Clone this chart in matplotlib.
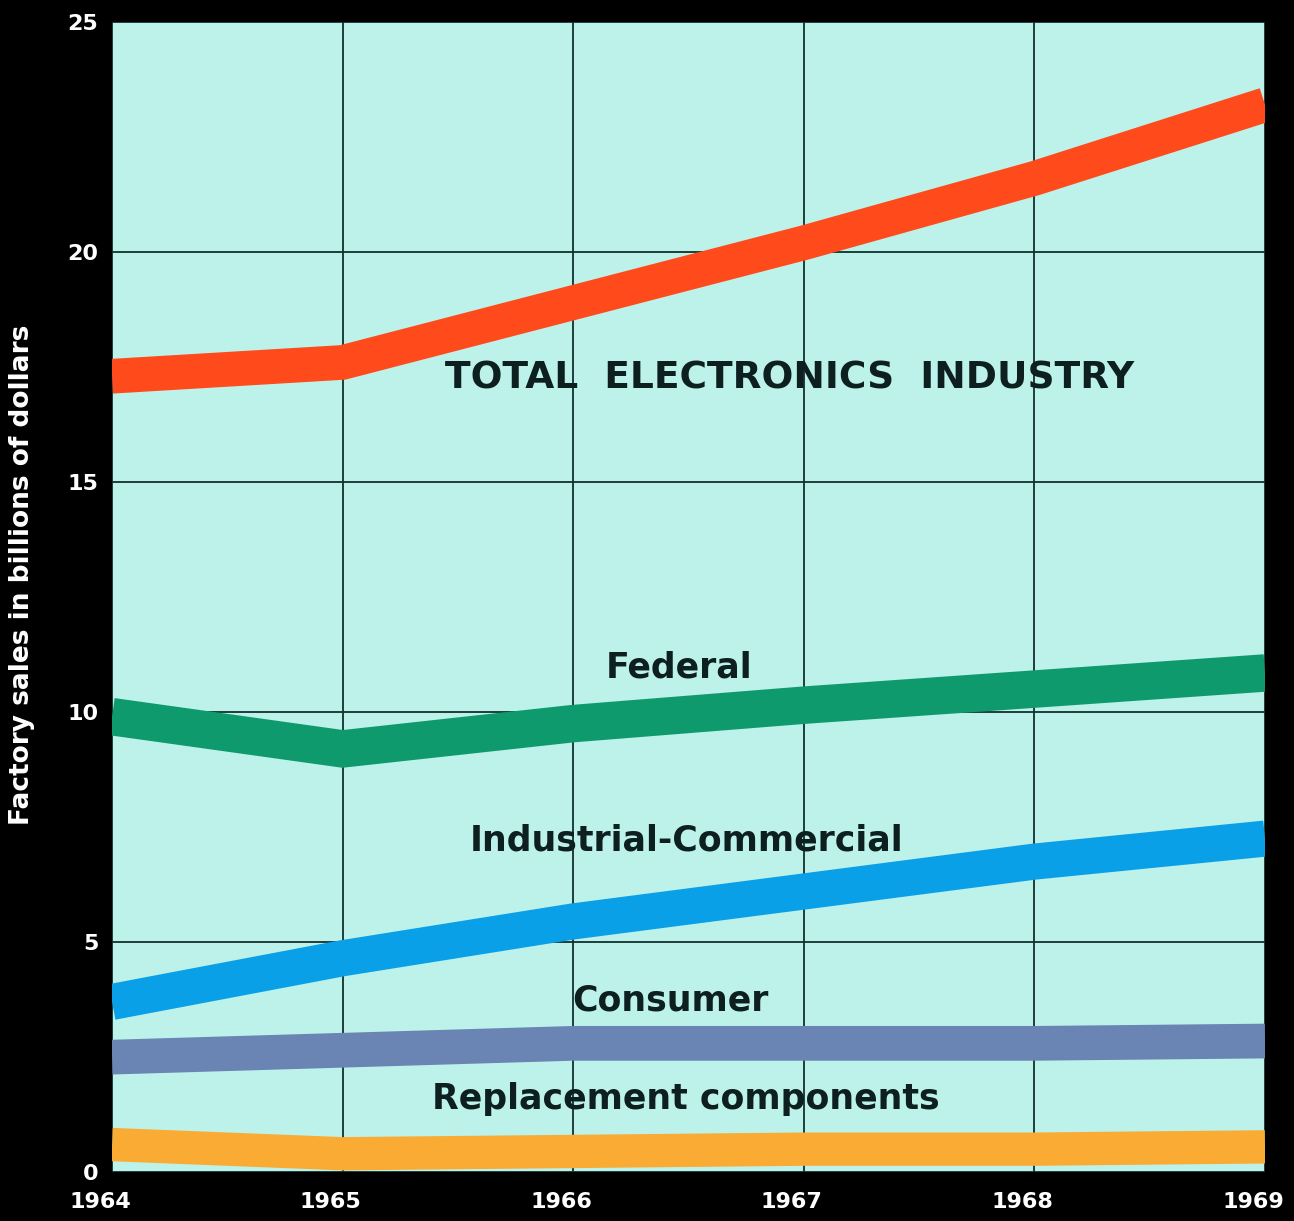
import numpy as np
import matplotlib.pyplot as plt
import matplotlib.transforms as mtransforms

years = [1964, 1965, 1966, 1967, 1968, 1969]
total = [17.3, 17.6, 18.9, 20.2, 21.6, 23.2]
federal = [9.9, 9.2, 9.75, 10.15, 10.5, 10.85]
industrial = [3.7, 4.65, 5.45, 6.1, 6.75, 7.25]
consumer = [2.5, 2.65, 2.8, 2.8, 2.8, 2.85]
replacement = [0.6, 0.4, 0.45, 0.5, 0.5, 0.55]

series_names = ['TOTAL  ELECTRONICS  INDUSTRY', 'Federal', 'Industrial-Commercial',
                'Consumer', 'Replacement components']
colors = ['#ff4a1c', '#0f9a6e', '#0aa0e8', '#6a84b4', '#f9ab33']

fig = plt.figure(figsize=(12.94, 12.21), dpi=100, facecolor='black')
ax = fig.add_axes([0.0866, 0.040, 0.891, 0.942])
ax.set_facecolor('#bdf2ea')

# grid
for yr in years:
    ax.axvline(yr, color='#12302e', lw=1.3, zorder=1)
for v in range(0, 26, 5):
    ax.axhline(v, color='#12302e', lw=1.3, zorder=1)

data = [total, federal, industrial, consumer, replacement]
widths = [25, 27, 26, 25, 24]
for vals, c, w in zip(data, colors, widths):
    ax.plot(years, vals, color=c, lw=w, solid_capstyle='butt',
            solid_joinstyle='miter', zorder=3)

txt = dict(color='#0d1f1f', fontweight='bold', ha='center', va='center', zorder=4)
ax.text(1966.94, 17.26, series_names[0], fontsize=27, **txt)
ax.text(1966.46, 10.96, series_names[1], fontsize=25, **txt)
ax.text(1966.49, 7.2, series_names[2], fontsize=25, **txt)
ax.text(1966.42, 3.74, series_names[3], fontsize=25, **txt)
ax.text(1966.49, 1.6, series_names[4], fontsize=25, **txt)

ax.set_xlim(1964, 1969)
ax.set_ylim(0, 25)
ax.set_xticks(years)
ax.set_yticks(range(0, 26, 5))
ax.tick_params(colors='white', length=0, labelsize=16)
ax.tick_params(axis='x', pad=14)
ax.tick_params(axis='y', pad=10)
for lab in ax.get_xticklabels() + ax.get_yticklabels():
    lab.set_fontweight('bold')
# year labels sit a little left of their grid lines in the original
shift = mtransforms.ScaledTranslation(-12 / 100, 0, fig.dpi_scale_trans)
for lab in ax.get_xticklabels():
    lab.set_transform(lab.get_transform() + shift)
for s in ax.spines.values():
    s.set_visible(False)

fig.text(0.017, 0.529, 'Factory sales in billions of dollars', rotation=90,
         color='white', fontsize=19, fontweight='bold', ha='center', va='center')

fig.savefig('out.png', dpi=100, facecolor='black')
